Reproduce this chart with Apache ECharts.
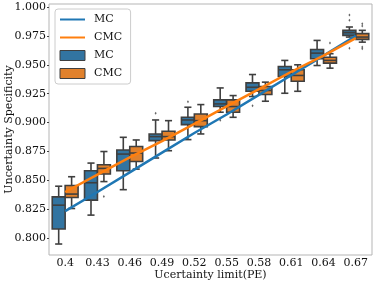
<!DOCTYPE html>
<html><head><meta charset="utf-8">
<script src="https://cdn.jsdelivr.net/npm/echarts@6/dist/echarts.min.js"></script>
<style>html,body{margin:0;padding:0;background:#fff}#c{width:374px;height:283px}</style>
</head><body><div id="c"></div>
<script>
const categories = ['0.4','0.43','0.46','0.49','0.52','0.55','0.58','0.61','0.64','0.67'];
// [min, q1, median, q3, max]
const mcBox = [
  [0.795, 0.808, 0.8286, 0.8358, 0.845],
  [0.820, 0.833, 0.848, 0.8584, 0.865],
  [0.842, 0.8584, 0.8728, 0.8763, 0.8873],
  [0.8694, 0.8844, 0.8879, 0.8902, 0.9023],
  [0.8853, 0.8983, 0.9023, 0.9046, 0.9133],
  [0.909, 0.9139, 0.9162, 0.9197, 0.930],
  [0.9226, 0.9271, 0.9306, 0.9344, 0.9416],
  [0.9254, 0.9399, 0.9457, 0.9486, 0.9538],
  [0.9494, 0.9552, 0.9601, 0.9633, 0.9711],
  [0.974, 0.9755, 0.9778, 0.9798, 0.9827]
];
const cmcBox = [
  [0.8257, 0.8352, 0.8382, 0.8456, 0.8532],
  [0.849, 0.8555, 0.8604, 0.8636, 0.875],
  [0.8598, 0.8664, 0.8737, 0.8794, 0.885],
  [0.8757, 0.885, 0.8879, 0.8925, 0.9017],
  [0.8902, 0.8965, 0.9017, 0.9075, 0.9156],
  [0.9046, 0.909, 0.9139, 0.9197, 0.9234],
  [0.9185, 0.9243, 0.9278, 0.9312, 0.935],
  [0.9271, 0.9358, 0.9408, 0.9457, 0.95],
  [0.9471, 0.9515, 0.9538, 0.9566, 0.9596],
  [0.9696, 0.972, 0.974, 0.977, 0.9798]
];
const mcOutliers = [[3,0.908],[4,0.918],[5,0.902],[6,0.9147],[9,0.993],[9,0.9885],[9,0.9644]];
const cmcOutliers = [[1,0.836],[8,0.9688],[9,0.9856],[9,0.9836],[9,0.9653],[9,0.964]];
const mcLine = [0.8235, 0.840, 0.857, 0.874, 0.891, 0.907, 0.924, 0.941, 0.958, 0.975];
const cmcLine = [0.840, 0.855, 0.870, 0.884, 0.899, 0.914, 0.929, 0.944, 0.958, 0.973];

const FONT = 'DejaVu Serif';
const TXT = '#111111';
const EDGE = '#3f3f3f';
const BLUE_FILL = '#3274a1', ORANGE_FILL = '#e1812c';
const BLUE = '#1f77b4', ORANGE = '#ff7f0e';

function makeRender(offFrac, fill){
  return function(params, api){
    const i = api.value(0);
    const band = api.size([1,0])[0];
    const cx = api.coord([i, 0.9])[0] + offFrac*band;
    const w = band*0.4;
    const y = k => api.coord([i, api.value(k)])[1];
    const ymin=y(1), yq1=y(2), ymed=y(3), yq3=y(4), ymax=y(5);
    const cw = w*0.55;
    const st = {stroke:EDGE, lineWidth:1.6};
    return {type:'group', children:[
      {type:'line', shape:{x1:cx,y1:ymax,x2:cx,y2:yq3}, style:st},
      {type:'line', shape:{x1:cx,y1:yq1,x2:cx,y2:ymin}, style:st},
      {type:'line', shape:{x1:cx-cw/2,y1:ymax,x2:cx+cw/2,y2:ymax}, style:st},
      {type:'line', shape:{x1:cx-cw/2,y1:ymin,x2:cx+cw/2,y2:ymin}, style:st},
      {type:'rect', shape:{x:cx-w/2,y:yq3,width:w,height:yq1-yq3}, style:{fill:fill, stroke:EDGE, lineWidth:1.6}},
      {type:'line', shape:{x1:cx-w/2,y1:ymed,x2:cx+w/2,y2:ymed}, style:st}
    ]};
  };
}

const chart = echarts.init(document.getElementById('c'), null, {renderer:'canvas'});
chart.setOption({
  animation:false,
  backgroundColor:'#fff',
  grid:{left:49, right:2, top:4, bottom:28, show:true, borderColor:'#b5b5b5', borderWidth:1, outerBoundsMode:'none', containLabel:false},
  legend:{
    orient:'vertical', left:55, top:9, itemWidth:25, itemHeight:10, itemGap:7,
    padding:[5,5,5,4], borderColor:'#cccccc', borderWidth:1, borderRadius:3, backgroundColor:'#fff',
    textStyle:{fontFamily:FONT, fontSize:11, color:TXT, padding:[0,0,0,4]},
    data:[
      {name:'MC', itemStyle:{color:'rgba(0,0,0,0)', borderWidth:0, opacity:0}},
      {name:'CMC', itemStyle:{color:'rgba(0,0,0,0)', borderWidth:0, opacity:0}},
      {name:'MC ', icon:'rect', itemStyle:{color:BLUE_FILL, borderColor:EDGE, borderWidth:1}},
      {name:'CMC ', icon:'rect', itemStyle:{color:ORANGE_FILL, borderColor:EDGE, borderWidth:1}}
    ]
  },
  xAxis:{
    type:'category', data:categories, boundaryGap:true,
    name:'Ucertainty limit(PE)', nameLocation:'middle', nameGap:15, nameMoveOverlap:false,
    nameTextStyle:{fontFamily:FONT, fontSize:11, color:TXT},
    axisLine:{show:false}, axisTick:{show:false},
    axisLabel:{fontFamily:FONT, fontSize:11, color:TXT, margin:3, interval:0, hideOverlap:false}
  },
  yAxis:{
    type:'value', min:0.7855, max:1.0026, minInterval:0.025, maxInterval:0.025,
    name:'Uncertainty Specificity', nameLocation:'middle', nameGap:34, nameMoveOverlap:false,
    nameTextStyle:{fontFamily:FONT, fontSize:11, color:TXT},
    axisLine:{show:false}, axisTick:{show:true, length:2, lineStyle:{color:'#444', width:1}}, splitLine:{show:false},
    axisLabel:{fontFamily:FONT, fontSize:11, color:TXT, margin:3, showMinLabel:false, showMaxLabel:false,
      hideOverlap:false, overflow:'none', formatter: v => v.toFixed(3)}
  },
  series:[
    {name:'MC ', type:'custom', renderItem:makeRender(-0.2, BLUE_FILL), itemStyle:{color:BLUE_FILL},
      encode:{x:0, y:[1,2,3,4,5]}, data:mcBox.map((b,i)=>[i].concat(b)), z:2},
    {name:'CMC ', type:'custom', renderItem:makeRender(0.2, ORANGE_FILL), itemStyle:{color:ORANGE_FILL},
      encode:{x:0, y:[1,2,3,4,5]}, data:cmcBox.map((b,i)=>[i].concat(b)), z:2},
    {name:'MC out', type:'scatter', symbol:'diamond', symbolSize:[2,3], symbolOffset:[-6.4,0],
      itemStyle:{color:EDGE}, data:mcOutliers, z:2},
    {name:'CMC out', type:'scatter', symbol:'diamond', symbolSize:[2,3], symbolOffset:[6.4,0],
      itemStyle:{color:EDGE}, data:cmcOutliers, z:2},
    {name:'MC', type:'line', data:mcLine, symbol:'none', lineStyle:{color:BLUE, width:2.5}, itemStyle:{color:BLUE}, z:5},
    {name:'CMC', type:'line', data:cmcLine, symbol:'none', lineStyle:{color:ORANGE, width:2.5}, itemStyle:{color:ORANGE}, z:5}
  ]
});
</script></body></html>
